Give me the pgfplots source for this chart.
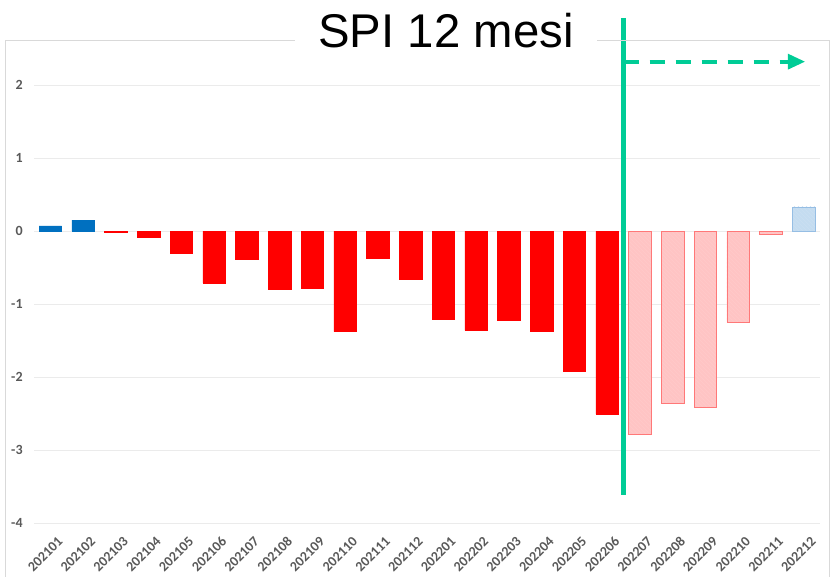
\documentclass[border=0pt]{standalone}
\usepackage{fontspec}
\setmainfont{Carlito}
\newfontfamily\titlefont{Liberation Sans}
\usepackage{pgfplots}
\pgfplotsset{compat=1.18}
\usetikzlibrary{arrows.meta,patterns}

\definecolor{barblue}{RGB}{0,112,192}
\definecolor{barred}{RGB}{255,0,0}
\definecolor{palered}{RGB}{255,196,196}
\definecolor{paleredline}{RGB}{255,120,120}
\definecolor{paleblue}{RGB}{196,220,240}
\definecolor{paleblueline}{RGB}{150,190,228}
\definecolor{spigreen}{RGB}{0,204,150}
\definecolor{ticktext}{RGB}{89,89,89}
\definecolor{framegray}{RGB}{217,217,217}

\begin{document}
\begin{tikzpicture}
\useasboundingbox (-25.5pt,-39.75pt) rectangle (599.25pt,392.25pt);
\begin{axis}[
  scale only axis,
  width=589.5pt, height=355.875pt,
  xmin=-0.5, xmax=23.5, ymin=-4, ymax=2.5,
  ybar, bar width=17pt,
  axis line style={draw=none},
  major tick length=0pt,
  ymajorgrids, grid style={draw=black!8, line width=0.75pt},
  ytick={-4,-3,-2,-1,0,1,2},
  yticklabels={-4,-3,-2,-1,0,1,2},
  xtick={0,...,23},
  xticklabels={202101,202102,202103,202104,202105,202106,202107,202108,202109,202110,202111,202112,
               202201,202202,202203,202204,202205,202206,202207,202208,202209,202210,202211,202212},
  tick label style={font=\bfseries\fontsize{10.5}{11}\selectfont, text=ticktext},
  yticklabel style={xshift=-5pt},
  xticklabel style={rotate=45, anchor=north east, inner sep=1pt, yshift=-9pt, xshift=-2pt},
  clip=false,
]
% osservato, surplus
\addplot[bar shift=0pt, fill=barblue, draw=barblue] coordinates {(0,0.07) (1,0.15)};
% osservato, deficit
\addplot[bar shift=0pt, fill=barred, draw=barred] coordinates {
  (2,-0.02) (3,-0.08) (4,-0.30) (5,-0.71) (6,-0.39) (7,-0.80) (8,-0.78) (9,-1.38)
  (10,-0.37) (11,-0.66) (12,-1.21) (13,-1.36) (14,-1.22) (15,-1.37) (16,-1.92) (17,-2.51)};
% previsione, deficit
\addplot[bar shift=0pt, fill=palered, draw=paleredline,
  postaction={pattern=north west lines, pattern color=paleredline!40}] coordinates {
  (18,-2.78) (19,-2.36) (20,-2.42) (21,-1.25) (22,-0.05)};
% previsione, surplus
\addplot[bar shift=0pt, fill=paleblue, draw=paleblueline,
  postaction={pattern=north west lines, pattern color=paleblueline!50}] coordinates {(23,0.33)};

\draw[spigreen, line width=3.75pt] (axis cs:17.5,2.92) -- (axis cs:17.5,-3.62);
\draw[spigreen, line width=3pt, dash pattern=on 11.5pt off 8pt,
      -{Triangle[length=13pt,width=11pt]}] (axis cs:17.5,2.32) -- (axis cs:23.05,2.32);
\end{axis}
% cornice dell'area del grafico
\draw[framegray, line width=0.75pt] (-21pt,-80pt) -- (-21pt,361.5pt) -- (596.25pt,361.5pt) -- (596.25pt,-80pt);
\node[fill=white, inner sep=0pt, minimum width=226pt, minimum height=34pt, anchor=center]
  at (309pt,361.5pt) {};
\node[anchor=base, inner sep=0pt, font=\titlefont\fontsize{35.5}{36}\selectfont]
  at (309pt,356.25pt) {SPI 12 mesi};
\end{tikzpicture}
\end{document}
